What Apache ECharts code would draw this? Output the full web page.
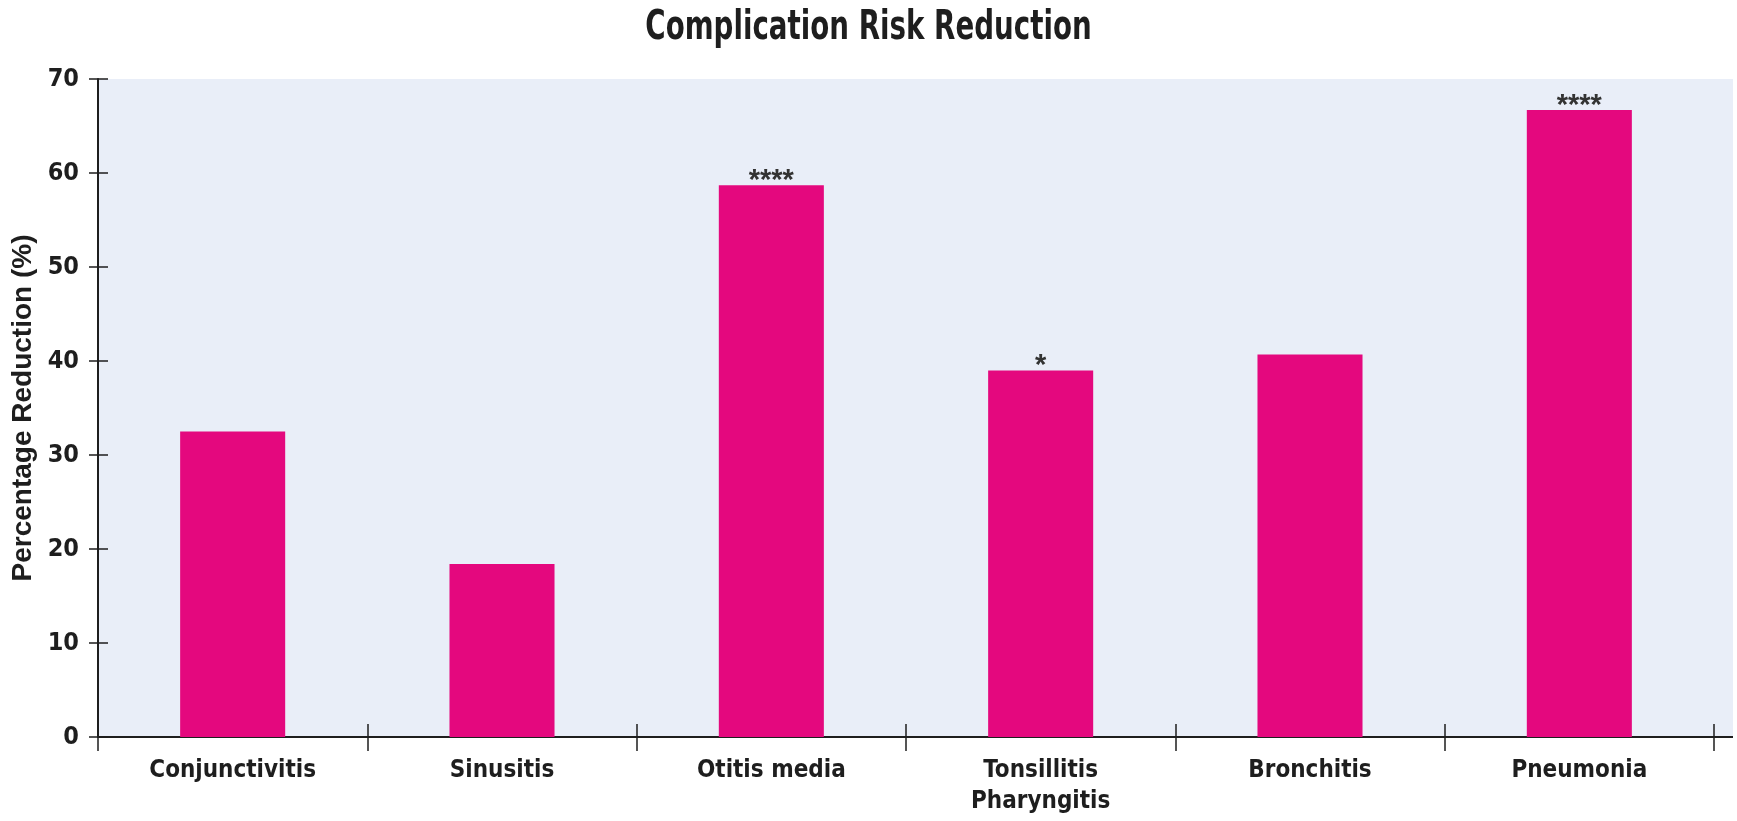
<!DOCTYPE html>
<html>
<head>
<meta charset="utf-8">
<script src="https://cdn.jsdelivr.net/npm/echarts@6/dist/echarts.min.js"></script>
<style>
  html, body { margin: 0; padding: 0; background: #ffffff; }
  #chart { width: 1737px; height: 821px; }
</style>
</head>
<body>
<div id="chart"></div>
<script>
// Complication categories along the x axis
const categories = ['Conjunctivitis', 'Sinusitis', 'Otitis media', 'Tonsillitis\nPharyngitis', 'Bronchitis', 'Pneumonia'];
// Percentage reduction in complication risk per category
const reductionPct = [32.5, 18.4, 58.7, 39.0, 40.7, 66.7];
// Significance markers drawn above the bars
const significance = ['', '', '****', '*', '', '****'];
// Value axis range and step
const yMin = 0, yMax = 70, yStep = 10;

const W = 1737, H = 821;
const grid = { left: 98, right: 23, top: 79, bottom: 84 };
const condensed = "'Liberation Sans Narrow', 'DejaVu Sans Condensed', sans-serif";
const ink = '#1e1e1e';

const chart = echarts.init(document.getElementById('chart'), null, { renderer: 'canvas' });

chart.setOption({
  animation: false,
  backgroundColor: '#ffffff',
  grid: {
    left: grid.left, right: grid.right, top: grid.top, bottom: grid.bottom,
    containLabel: false, outerBoundsMode: 'none'
  },
  graphic: [
    // plot background, running a little past the last category boundary
    {
      type: 'rect', z: -10, silent: true,
      shape: { x: grid.left, y: grid.top, width: W - 4 - grid.left, height: H - grid.bottom - grid.top },
      style: { fill: '#e9eef8' }
    },
    // x axis line continues to the end of the background
    {
      type: 'line', z: 10, silent: true,
      shape: { x1: W - grid.right, y1: H - grid.bottom, x2: W - 4, y2: H - grid.bottom },
      style: { stroke: ink, lineWidth: 2 }
    },
    // chart title, horizontally condensed
    {
      type: 'text', silent: true,
      x: W / 2, y: 9, scaleX: 0.77,
      style: {
        text: 'Complication Risk Reduction',
        textAlign: 'center', textVerticalAlign: 'top',
        fontFamily: condensed, fontWeight: 'bold', fontSize: 40, fill: ink
      }
    }
  ],
  xAxis: [
    {
      type: 'category',
      data: categories,
      position: 'bottom',
      boundaryGap: true,
      axisLine: { show: true, lineStyle: { color: ink, width: 2 } },
      axisTick: { show: true, length: 14, lineStyle: { color: ink, width: 1.5 } },
      axisLabel: { margin: 18, fontFamily: condensed, fontWeight: 'bold', fontSize: 24, lineHeight: 31, color: ink }
    },
    {
      type: 'category',
      data: categories,
      position: 'bottom',
      boundaryGap: true,
      axisLine: { show: false },
      axisTick: { show: true, inside: true, length: 13, lineStyle: { color: ink, width: 1.5 } },
      axisLabel: { show: false }
    }
  ],
  yAxis: [
    {
      type: 'value',
      position: 'left',
      min: yMin, max: yMax, interval: yStep,
      name: 'Percentage Reduction (%)',
      nameLocation: 'middle',
      nameGap: 56,
      nameTextStyle: { fontFamily: "'Liberation Sans', Arial, sans-serif", fontWeight: 'bold', fontSize: 28, color: ink },
      axisLine: { show: true, lineStyle: { color: ink, width: 2 } },
      axisTick: { show: true, length: 9, lineStyle: { color: ink, width: 1.5 } },
      axisLabel: { margin: 19, fontFamily: condensed, fontWeight: 'bold', fontSize: 25, color: ink },
      splitLine: { show: false }
    },
    {
      type: 'value',
      position: 'left',
      min: yMin, max: yMax, interval: yStep,
      axisLine: { show: false },
      axisTick: { show: true, inside: true, length: 10, lineStyle: { color: ink, width: 1.5 } },
      axisLabel: { show: false },
      splitLine: { show: false }
    }
  ],
  series: [
    {
      type: 'bar',
      xAxisIndex: 0,
      yAxisIndex: 0,
      data: reductionPct,
      barWidth: '39%',
      itemStyle: { color: '#e4087e' },
      label: {
        show: true,
        position: 'top',
        distance: -10,
        formatter: (p) => significance[p.dataIndex],
        fontFamily: "'Liberation Sans', Arial, sans-serif",
        fontWeight: 'bold',
        fontSize: 29,
        color: '#333333'
      }
    }
  ]
});
</script>
</body>
</html>
